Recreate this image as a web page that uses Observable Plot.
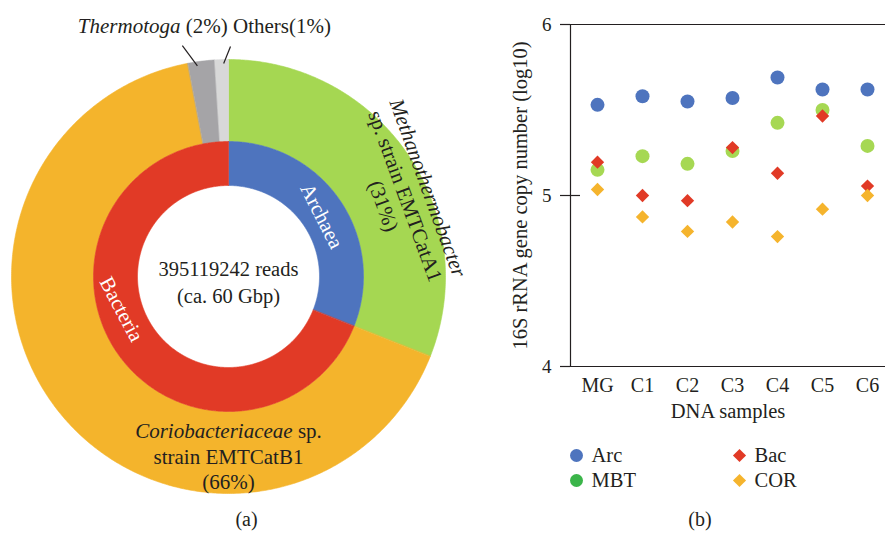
<!DOCTYPE html>
<html>
<head>
<meta charset="utf-8">
<script src="https://cdn.jsdelivr.net/npm/d3@7"></script>
<script src="https://cdn.jsdelivr.net/npm/@observablehq/plot@0.6"></script>
<style>
  html, body { margin: 0; padding: 0; background: #fff; }
  #wrap { position: relative; width: 885px; height: 533px; overflow: hidden;
          font-family: "Liberation Serif", serif; color: #231f20; background: #fff; }
  #wrap > div { position: absolute; }
  .cap { font-size: 20px; line-height: 20px; text-align: center; }
</style>
</head>
<body>
<div id="wrap">
  <div id="donut" style="left:0;top:0"></div>
  <div id="scatter" style="left:470px;top:0"></div>
  <div id="legend" style="left:470px;top:440px"></div>
  <div class="cap" style="left:0;width:493px;top:509px">(a)</div>
  <div class="cap" style="left:470px;width:460px;top:509px">(b)</div>
</div>
<script>
// ---------------- data ----------------
// (a) read composition
const domains = ["Archaea", "Bacteria"];
const domainShares = [31, 69];
const taxa = ["Methanothermobacter sp. strain EMTCatA1", "Coriobacteriaceae sp. strain EMTCatB1", "Thermotoga", "Others"];
const taxonShares = [31, 66, 2, 1];
const totalReads = "395119242 reads";
const totalBases = "(ca. 60 Gbp)";

// (b) 16S rRNA gene copy number (log10)
const samples = ["MG", "C1", "C2", "C3", "C4", "C5", "C6"];
const arc = [5.53, 5.58, 5.55, 5.57, 5.69, 5.62, 5.62];
const mbt = [5.15, 5.23, 5.185, 5.26, 5.425, 5.50, 5.29];
const bac = [5.195, 5.00, 4.97, 5.28, 5.13, 5.465, 5.055];
const cor = [5.035, 4.875, 4.79, 4.845, 4.76, 4.92, 5.00];
const seriesNames = ["Arc", "Bac", "MBT", "COR"];
const yTicks = [4, 5, 6];

// ---------------- styles ----------------
const INK = "#231f20";
const domainColors = ["#4e74be", "#e13a26"];
const taxonColors = ["#a5d752", "#f4b42c", "#a5a4a7", "#d8d8d8"];
const seriesColors = {Arc: "#4e74be", Bac: "#e13a26", MBT: "#a6d853", COR: "#f5b42d"};
const legendColors = {Arc: "#4e74be", Bac: "#e13a26", MBT: "#3bb54a", COR: "#f5b42d"};
const FONT = "Liberation Serif, serif";

// ---------------- (a) donut ----------------
const CX = 228, CY = 276;                 // centre of the donut (px)
const RING = {hole: 91, mid: 135, outer: 217};

function sector(t0, t1, r0, r1, color, name) {
  const n = Math.max(2, Math.ceil((t1 - t0) / 0.5));
  const outer = d3.range(n + 1).map(i => [t0 + (t1 - t0) * i / n, r1]);
  const inner = d3.range(n + 1).map(i => [t1 - (t1 - t0) * i / n, r0]);
  return {type: "Feature", properties: {name, color},
          geometry: {type: "Polygon", coordinates: [[...outer, ...inner, outer[0]]]}};
}
function sectors(names, shares, colors, r0, r1) {
  const total = d3.sum(shares);
  let acc = 0;
  return names.map((name, i) => {
    const t0 = acc / total * 360; acc += shares[i];
    const t1 = acc / total * 360;
    return sector(t0, t1, r0, r1, colors[i], name);
  });
}
const features = [
  ...sectors(taxa, taxonShares, taxonColors, RING.mid, RING.outer),
  ...sectors(domains, domainShares, domainColors, RING.hole, RING.mid)
];

// polar (angle in degrees clockwise from top, radius in px) -> screen
const polar = d3.geoTransform({
  point(t, r) {
    const a = t * Math.PI / 180;
    this.stream.point(CX + r * Math.sin(a), CY - r * Math.cos(a));
  }
});

const whiteLabels = [
  {text: domains[0], t: 57, r: 111, rotate: 63},
  {text: domains[1], t: 253, r: 112, rotate: 62}
];
const italicLabels = [
  {text: "Methanothermobacter", t: 66, r: 218, rotate: 70}
];
const plainLabels = [
  {text: "sp. strain EMTCatA1", t: 65.5, r: 194, rotate: 70},
  {text: `(${taxonShares[0]}%)`, t: 65.5, r: 170, rotate: 70},
  {text: "Coriobacteriaceae sp.", t: 180, r: 155, rotate: 0},
  {text: "strain EMTCatB1", t: 180, r: 181, rotate: 0},
  {text: `(${taxonShares[1]}%)`, t: 180, r: 206, rotate: 0},
  {text: `${taxa[2]} (${taxonShares[2]}%) ${taxa[3]}(${taxonShares[3]}%)`, t: 354.5, r: 251.5, rotate: 0}
];
const centreLabel = [{text: totalReads + "\n" + totalBases, t: 180, r: 4}];
const leaders = [
  {t1: 348.7, r1: 235.5, t2: 351.6, r2: 213},
  {t1: 0.5, r1: 230, t2: 358.7, r2: 213}
];

const donut = Plot.plot({
  width: 470, height: 533, margin: 0,
  projection: polar,
  color: {type: "identity"},
  style: {fontFamily: FONT, fontSize: "21px", color: INK, background: "transparent", overflow: "visible"},
  marks: [
    Plot.geo(features, {fill: d => d.properties.color, stroke: d => d.properties.color, strokeWidth: 0.6}),
    Plot.link(leaders, {x1: "t1", y1: "r1", x2: "t2", y2: "r2", stroke: INK, strokeWidth: 1.2}),
    Plot.text(whiteLabels, {x: "t", y: "r", text: "text", rotate: "rotate", fill: "white", fontSize: 21}),
    Plot.text(italicLabels, {x: "t", y: "r", text: "text", rotate: "rotate", fill: INK, fontSize: 21, fontStyle: "italic"}),
    Plot.text(plainLabels, {x: "t", y: "r", text: "text", rotate: "rotate", fill: INK, fontSize: 21}),
    Plot.text(centreLabel, {x: "t", y: "r", text: "text", fill: INK, fontSize: 20.5, lineHeight: 1.32})
  ]
});
// italicise the taxon names inside mixed lines
d3.select(donut).selectAll("text").each(function () {
  const s = this.textContent;
  for (const name of ["Thermotoga", "Coriobacteriaceae"]) {
    if (s.startsWith(name)) {
      const sel = d3.select(this);
      sel.text(null);
      sel.append("tspan").attr("font-style", "italic").text(name);
      sel.append("tspan").text(s.slice(name.length));
    }
  }
});
document.getElementById("donut").append(donut);

// ---------------- (b) scatter ----------------
const rows = (vals, series) => samples.map((s, i) => ({sample: s, value: vals[i], series}));

const scatter = Plot.plot({
  width: 415, height: 425,
  marginLeft: 100, marginRight: 0, marginTop: 24, marginBottom: 59,
  x: {type: "point", domain: samples, padding: 0.424, align: 0.59, label: null},
  y: {domain: [4, 6], label: null},
  style: {fontFamily: FONT, fontSize: "20px", color: INK, background: "transparent", overflow: "visible"},
  marks: [
    Plot.ruleY([yTicks[0], yTicks[2]], {stroke: INK, strokeWidth: 1.2}),
    Plot.frame({anchor: "left", stroke: INK, strokeWidth: 1.2}),
    Plot.axisY({ticks: yTicks, tickSize: 10, tickPadding: 9, tickFormat: "d", strokeWidth: 1.2, fontSize: 19, label: null}),
    Plot.axisY({ticks: [yTicks[1]], tickSize: -10, tickFormat: () => "", strokeWidth: 1.2, label: null}),
    Plot.axisX({tickSize: 0, tickPadding: 11, fontSize: 20, label: null}),
    Plot.text(["16S rRNA gene copy number (log10)"], {text: d => d, frameAnchor: "left", textAnchor: "middle", rotate: -90, dx: -50, fontSize: 20.5, fill: INK}),
    Plot.text(["DNA samples"], {text: d => d, frameAnchor: "bottom", textAnchor: "middle", dy: 51, lineAnchor: "bottom", fontSize: 20.5, fill: INK}),
    Plot.dot(rows(arc, "Arc"), {x: "sample", y: "value", r: 7, symbol: "circle", fill: seriesColors.Arc}),
    Plot.dot(rows(mbt, "MBT"), {x: "sample", y: "value", r: 7, symbol: "circle", fill: seriesColors.MBT}),
    Plot.dot(rows(bac, "Bac"), {x: "sample", y: "value", r: 6, symbol: "diamond2", fill: seriesColors.Bac}),
    Plot.dot(rows(cor, "COR"), {x: "sample", y: "value", r: 6, symbol: "diamond2", fill: seriesColors.COR})
  ]
});
document.getElementById("scatter").append(scatter);

// ---------------- (b) legend ----------------
const legendItems = [
  {name: seriesNames[0], col: 0, row: 0, shape: "circle"},
  {name: seriesNames[1], col: 1, row: 0, shape: "diamond2"},
  {name: seriesNames[2], col: 0, row: 1, shape: "circle"},
  {name: seriesNames[3], col: 1, row: 1, shape: "diamond2"}
];
const legend = Plot.plot({
  width: 415, height: 60, margin: 0,
  x: {type: "point", domain: [0, 1], range: [106, 269], padding: 0, axis: null},
  y: {type: "point", domain: [0, 1], range: [15, 40], padding: 0, axis: null},
  style: {fontFamily: FONT, fontSize: "20px", color: INK, background: "transparent", overflow: "visible"},
  marks: [
    Plot.dot(legendItems.filter(d => d.shape === "circle"), {x: "col", y: "row", r: 6.5, symbol: "circle", fill: d => legendColors[d.name]}),
    Plot.dot(legendItems.filter(d => d.shape === "diamond2"), {x: "col", y: "row", r: 5.9, symbol: "diamond2", fill: d => legendColors[d.name]}),
    Plot.text(legendItems, {x: "col", y: "row", text: "name", dx: 15, textAnchor: "start", fontSize: 20.5, fill: INK})
  ],
  color: {type: "identity"}
});
document.getElementById("legend").append(legend);
</script>
</body>
</html>
